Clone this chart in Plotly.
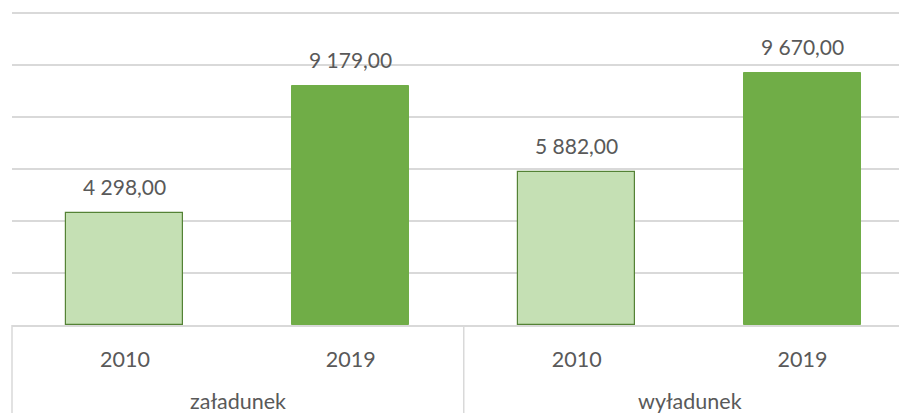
import plotly.graph_objects as go

# Transhipment volumes by operation type and year
groups = ["załadunek", "wyładunek"]
years = ["2010", "2019"]
values_2010 = [4298.00, 5882.00]
values_2019 = [9179.00, 9670.00]

FONT = "Lato"
TXT = "#595959"
GRID = "#d9d9d9"

x_min, x_max = -0.5, 3.427
y_top = 12100

def fmt(v):
    return f"{v:,.2f}".replace(",", " ").replace(".", ",")

pos_2010 = [0, 2]
pos_2019 = [1, 3]

fig = go.Figure()
fig.add_trace(go.Bar(
    x=pos_2010, y=values_2010, width=0.518,
    marker=dict(color="#c5e0b4", line=dict(color="#548235", width=1.2)),
    hoverinfo="skip",
))
fig.add_trace(go.Bar(
    x=pos_2019, y=values_2019, width=0.518,
    marker=dict(color="#70ad47", line=dict(color="#70ad47", width=1)),
    hoverinfo="skip",
))

annotations = []
for xs, vs in ((pos_2010, values_2010), (pos_2019, values_2019)):
    for x, v in zip(xs, vs):
        annotations.append(dict(
            x=x, y=v, xref="x", yref="y", text=fmt(v), showarrow=False,
            yanchor="bottom", yshift=12, font=dict(family=FONT, size=21, color=TXT),
        ))

def to_paper(x):
    return (x - x_min) / (x_max - x_min)

# Group labels below the year labels
for i, g in enumerate(groups):
    annotations.append(dict(
        x=2 * i + 0.5, y=0, xref="x", yref="paper", text=g, showarrow=False,
        yanchor="middle", yshift=-76, font=dict(family=FONT, size=21.5, color=TXT),
    ))

# Vertical dividers between category groups
shapes = []
for b in (-0.5, 1.5):
    shapes.append(dict(
        type="line", xref="paper", yref="paper",
        x0=to_paper(b), x1=to_paper(b), y0=0, y1=-0.32,
        line=dict(color=GRID, width=1.5),
    ))

fig.update_layout(
    width=899, height=413,
    margin=dict(l=12, r=0, t=10, b=88),
    paper_bgcolor="white", plot_bgcolor="white",
    showlegend=False, bargap=0,
    annotations=annotations, shapes=shapes,
    xaxis=dict(
        range=[x_min, x_max], tickmode="array",
        tickvals=pos_2010 + pos_2019, ticktext=[years[0]] * 2 + [years[1]] * 2,
        showgrid=False, zeroline=False, showline=True, linecolor=GRID, linewidth=1.5,
        ticks="", ticklabelstandoff=14,
        tickfont=dict(family=FONT, size=21.5, color=TXT),
        fixedrange=True,
    ),
    yaxis=dict(
        range=[0, y_top], tick0=0, dtick=2000, showticklabels=False,
        showgrid=True, gridcolor=GRID, gridwidth=1.5, zeroline=False,
        fixedrange=True,
    ),
)

fig.write_html("out.html")
